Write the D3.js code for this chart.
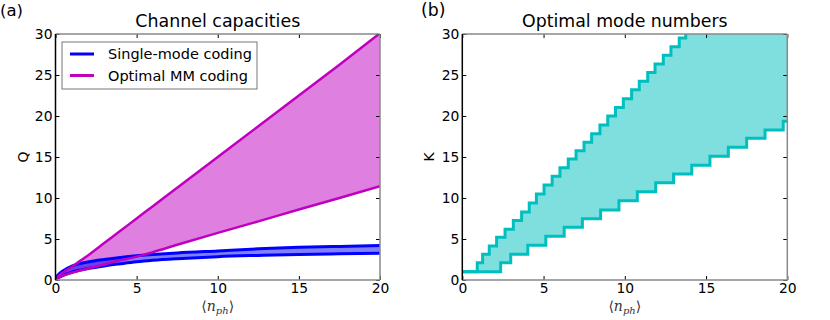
<!DOCTYPE html>
<html>
<head>
<meta charset="utf-8">
<script src="https://cdn.jsdelivr.net/npm/d3@7"></script>
<style>
  body { margin: 0; background: #fff; }
  svg { display: block; font-family: "DejaVu Sans", sans-serif; }
</style>
</head>
<body>
<svg id="chart" width="830" height="320"></svg>
<script>
// ---------- Data ----------
// Panel (a): channel capacities vs <n_ph>
const nph          = [0, 0.1, 0.2, 0.35, 0.5, 0.75, 1, 1.5, 2, 3, 4, 5, 6, 7.5, 10, 12.5, 15, 17.5, 20];
const singleUpper  = [0, 0.45, 0.7, 0.95, 1.15, 1.45, 1.7, 2.0, 2.2, 2.5, 2.75, 2.95, 3.1, 3.3, 3.55, 3.8, 3.98, 4.1, 4.2];
const singleLower  = [0, 0.2, 0.3, 0.45, 0.6, 0.78, 0.95, 1.2, 1.4, 1.72, 1.98, 2.22, 2.4, 2.6, 2.85, 3.0, 3.12, 3.2, 3.27];
const mmUpper      = [0, 0.3, 0.5, 0.75, 0.95, 1.3, 1.6, 2.3, 3.0, 4.5, 6.0, 7.5, 9.0, 11.25, 15, 18.75, 22.5, 26.25, 30.1];
const mmLower      = [0, 0.2, 0.3, 0.45, 0.55, 0.72, 0.88, 1.15, 1.4, 1.9, 2.4, 2.85, 3.4, 4.3, 5.75, 7.15, 8.6, 10.0, 11.45];

// Panel (b): optimal mode numbers (step functions; value holds from each n onward)
const upperStepN = [0, 0.92, 1.25, 1.66, 2.11, 2.63, 3.14, 3.65, 4.12, 4.56, 5.03, 5.53, 6.01, 6.52, 7.0, 7.49, 7.96, 8.47, 8.95, 9.43, 9.91, 10.42, 10.89, 11.41, 11.86, 12.37, 12.84, 13.35, 13.75, 20];
const upperStepK = [1, 2.1, 3.15, 4.15, 5.2, 6.2, 7.25, 8.3, 9.4, 10.5, 11.6, 12.65, 13.7, 14.75, 15.75, 16.8, 17.85, 18.9, 20.0, 21.05, 22.1, 23.2, 24.25, 25.3, 26.35, 27.4, 28.45, 29.5, 30.7, 30.7];
const lowerStepN = [0, 2.36, 2.98, 4.03, 5.14, 6.27, 7.39, 8.51, 9.64, 10.77, 11.9, 13.0, 14.12, 15.24, 16.37, 17.5, 18.63, 19.75, 20];
const lowerStepK = [1, 2.1, 3.15, 4.25, 5.35, 6.42, 7.48, 8.55, 9.65, 10.75, 11.85, 12.93, 14.0, 15.1, 16.18, 17.28, 18.3, 19.35, 19.35];

const xTicks = [0, 5, 10, 15, 20];
const yTicks = [0, 5, 10, 15, 20, 25, 30];
const legendLabels = ["Single-mode coding", "Optimal MM coding"];

// ---------- Styles ----------
const BLUE = "#0000ff", MAG = "#bf00bf", CYAN = "#00bfbf";
const svg = d3.select("#chart");
const plotTop = 34, plotBottom = 280;

// scale a text's font so its rendered width matches the reference width
function fit(sel, targetW) {
  const node = sel.node();
  const fs = parseFloat(sel.attr("font-size"));
  const w = node.getComputedTextLength();
  if (w > 0) sel.attr("font-size", (fs * targetW / w).toFixed(2));
  return sel;
}

const probe = svg.append("text").attr("font-size", 14).attr("font-family", "DejaVu Sans").text("30");
const tickFont = 14 * 17.7 / probe.node().getComputedTextLength();
probe.remove();

function panel(x0, x1, id, title, titleW, tag, tagX, tagW, ylab, ylabX) {
  const x = d3.scaleLinear().domain([0, 20]).range([x0, x1]);
  const y = d3.scaleLinear().domain([0, 30]).range([plotBottom, plotTop]);
  const g = svg.append("g");
  svg.append("clipPath").attr("id", id).append("rect")
    .attr("x", x0).attr("y", plotTop).attr("width", x1 - x0).attr("height", plotBottom - plotTop);
  const plot = g.append("g").attr("clip-path", `url(#${id})`);

  const ax = (axis, tr, labels) => {
    const a = g.append("g").attr("transform", tr).call(axis);
    a.select(".domain").remove();
    a.selectAll("line").attr("stroke", "#000");
    a.selectAll("text").attr("font-size", tickFont).attr("fill", "#000")
      .attr("font-family", "DejaVu Sans");
    if (!labels) a.selectAll("text").remove();
    return a;
  };
  ax(d3.axisBottom(x).tickValues(xTicks).tickSize(-4).tickPadding(3).tickFormat(d3.format("d")), `translate(0,${plotBottom})`, true);
  ax(d3.axisTop(x).tickValues(xTicks).tickSize(-4), `translate(0,${plotTop})`, false);
  ax(d3.axisLeft(y).tickValues(yTicks).tickSize(-4).tickPadding(3).tickFormat(d3.format("d")), `translate(${x0},0)`, true);
  ax(d3.axisRight(y).tickValues(yTicks).tickSize(-4), `translate(${x1},0)`, false);

  const spines = () => {
    g.append("line").attr("x1", x0).attr("x2", x1).attr("y1", plotTop).attr("y2", plotTop).attr("stroke", "#888").attr("stroke-width", 1.5);
    g.append("line").attr("x1", x1).attr("x2", x1).attr("y1", plotTop).attr("y2", plotBottom).attr("stroke", "#888").attr("stroke-width", 1.5);
    g.append("line").attr("x1", x0).attr("x2", x1).attr("y1", plotBottom).attr("y2", plotBottom).attr("stroke", "#888").attr("stroke-width", 1.5);
    g.append("line").attr("x1", x0).attr("x2", x0).attr("y1", plotTop).attr("y2", plotBottom).attr("stroke", "#000").attr("stroke-width", 1.5);
  };

  fit(g.append("text").attr("x", (x0 + x1) / 2).attr("y", 26.5).attr("text-anchor", "middle")
    .attr("font-size", 17).text(title), titleW);
  fit(g.append("text").attr("x", tagX).attr("y", 16).attr("font-size", 16).text(tag), tagW);

  g.append("text").attr("transform", `translate(${ylabX},157) rotate(-90)`)
    .attr("text-anchor", "middle").attr("font-size", tickFont).text(ylab);

  const xl = g.append("text").attr("x", (x0 + x1) / 2).attr("y", 311).attr("text-anchor", "middle")
    .attr("font-family", "DejaVu Serif, serif").attr("font-size", 14).attr("fill", "#333");
  xl.append("tspan").text("\u27E8");
  xl.append("tspan").attr("font-style", "italic").text("n");
  xl.append("tspan").attr("font-style", "italic").attr("font-size", 10).attr("dy", 3).text("ph");
  xl.append("tspan").attr("dy", -3).text("\u27E9");

  return { x, y, plot, g, spines };
}

// ---------- Panel (a) ----------
const A = panel(55.5, 380, "clipA", "Channel capacities", 165, "(a)", 0, 23, "Q", 28);
const ptsA = nph.map((n, i) => ({ n, su: singleUpper[i], sl: singleLower[i], mu: mmUpper[i], ml: mmLower[i] }));
const areaA = (lo, hi) => d3.area().x(d => A.x(d.n)).y0(d => A.y(d[lo])).y1(d => A.y(d[hi])).curve(d3.curveMonotoneX);
const lineA = key => d3.line().x(d => A.x(d.n)).y(d => A.y(d[key])).curve(d3.curveMonotoneX);

A.plot.append("path").datum(ptsA).attr("d", areaA("ml", "mu")).attr("fill", MAG).attr("fill-opacity", 0.5);
A.plot.append("path").datum(ptsA).attr("d", areaA("sl", "su")).attr("fill", BLUE).attr("fill-opacity", 0.5);
["su", "sl"].forEach(k => A.plot.append("path").datum(ptsA).attr("d", lineA(k))
  .attr("fill", "none").attr("stroke", BLUE).attr("stroke-width", 3));
["mu", "ml"].forEach(k => A.plot.append("path").datum(ptsA).attr("d", lineA(k))
  .attr("fill", "none").attr("stroke", MAG).attr("stroke-width", 2.5));
A.spines();

const lg = A.g.append("g");
lg.append("rect").attr("x", 62).attr("y", 42).attr("width", 195).attr("height", 47)
  .attr("fill", "#fff").attr("stroke", "#777").attr("stroke-width", 1);
const legFont = (() => {
  const t = svg.append("text").attr("font-size", 14).text(legendLabels[0]);
  const f = 14 * 144 / t.node().getComputedTextLength();
  t.remove();
  return f;
})();
[BLUE, MAG].forEach((c, i) => {
  const yy = 54 + i * 21.5;
  lg.append("line").attr("x1", 70).attr("x2", 94).attr("y1", yy).attr("y2", yy)
    .attr("stroke", c).attr("stroke-width", 3);
  lg.append("text").attr("x", 108).attr("y", yy + 5).attr("font-size", legFont).text(legendLabels[i]);
});

// ---------- Panel (b) ----------
const B = panel(462.3, 787.3, "clipB", "Optimal mode numbers", 205.7, "(b)", 421, 24.5, "K", 434);
const stepVal = (ns, ks, n) => { let v = ks[0]; for (let i = 0; i < ns.length; i++) if (ns[i] <= n) v = ks[i]; return v; };
const allN = Array.from(new Set(upperStepN.concat(lowerStepN))).sort((a, b) => a - b);
const ptsB = allN.map(n => ({ n, u: stepVal(upperStepN, upperStepK, n), l: stepVal(lowerStepN, lowerStepK, n) }));
B.plot.append("path").datum(ptsB)
  .attr("d", d3.area().x(d => B.x(d.n)).y0(d => B.y(d.l)).y1(d => B.y(d.u)).curve(d3.curveStepAfter))
  .attr("fill", CYAN).attr("fill-opacity", 0.5);
const lineB = (ns, ks) => ns.map((n, i) => [n, ks[i]]);
[[upperStepN, upperStepK], [lowerStepN, lowerStepK]].forEach(([ns, ks]) => {
  B.plot.append("path").datum(lineB(ns, ks))
    .attr("d", d3.line().x(d => B.x(d[0])).y(d => B.y(d[1])).curve(d3.curveStepAfter))
    .attr("fill", "none").attr("stroke", CYAN).attr("stroke-width", 3);
});
B.spines();
</script>
</body>
</html>
